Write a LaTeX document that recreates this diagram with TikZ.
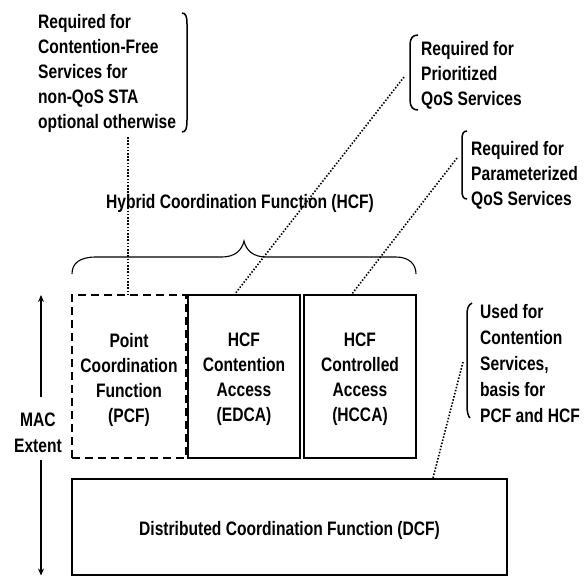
\documentclass[tikz,border=0pt]{standalone}
\usepackage{fontspec}
\setmainfont{Liberation Sans}[FakeStretch=0.8]
\usetikzlibrary{arrows.meta,calc}
\begin{document}
\begin{tikzpicture}[x=1pt,y=-1pt,
  lbl/.style={font=\fontsize{19.5}{25}\selectfont\bfseries, inner sep=0pt},
  note/.style={lbl, align=left, anchor=north west},
  boxtext/.style={lbl, align=center, anchor=north},
  func/.style={draw, line width=2.3pt, inner sep=0pt, minimum height=163pt},
  pcfbox/.style={func, dash pattern=on 8pt off 5pt},
  bracket/.style={line width=1.5pt},
  brace/.style={line width=1.1pt},
  link/.style={line width=1.6pt, dash pattern=on 1.5pt off 1.7pt},
  extent/.style={line width=1.5pt, -{Stealth[length=7pt,width=6pt]}}]
\useasboundingbox (0,0) rectangle (584,576);

% MAC layer function blocks
\node[pcfbox, minimum width=114pt] (pcf)  at (129,376.5) {};
\node[func,   minimum width=112pt] (edca) at (244,376.5) {};
\node[func,   minimum width=112pt] (hcca) at (360,376.5) {};
\node[func, minimum width=435pt, minimum height=96pt] (dcf) at (289.5,527) {};

\node[boxtext] (pcftext)  at (129,332.9) {Point\\Coordination\\Function\\(PCF)};
\node[boxtext] (edcatext) at (244,332.9) {HCF\\Contention\\Access\\(EDCA)};
\node[boxtext] (hccatext) at (360,332.9) {HCF\\Controlled\\Access\\(HCCA)};
\node[lbl, anchor=base] (dcftext) at (289.5,535) {Distributed Coordination Function (DCF)};

% HCF grouping brace and title
\node[lbl, anchor=base] (hcf) at (240,208) {Hybrid Coordination Function (HCF)};
\draw[brace] (72,274) .. controls (72,263) and (80,257) .. (96,257) -- (222,257)
  .. controls (235,257) and (242,250) .. (244,241)
  .. controls (246,250) and (253,257) .. (266,257) -- (396,257)
  .. controls (410,257) and (416,265) .. (416,274);

% MAC extent
\node[lbl, align=center, anchor=north, font=\fontsize{19.5}{26}\selectfont\bfseries] (mac) at (38,412.9) {MAC\\Extent};
\coordinate (macup)  at (41,397);
\coordinate (mactop) at (41,295);
\coordinate (maclow) at (41,460);
\coordinate (macbot) at (41,575.5);
\draw[extent] (macup) -- (mactop);
\draw[extent] (maclow) -- (macbot);

% Annotations
\node[note] (notea) at (38,13.9) {Required for\\Contention-Free\\Services for\\non-QoS STA\\optional otherwise};
\draw[bracket] (182,13) .. controls (186,13) and (187,17) .. (187,24) -- (187,120)
  .. controls (187,128) and (186,132) .. (182,132);
\coordinate (na) at (128,137);

\node[note] (noteb) at (421,40.9) {Required for\\Prioritized\\QoS Services};
\draw[bracket] (418,35) .. controls (413,35) and (410,38) .. (410,45) -- (410,100)
  .. controls (410,107) and (413,110) .. (418,110);
\coordinate (nb) at (404,77);

\node[note] (notec) at (471,140.9) {Required for\\Parameterized\\QoS Services};
\draw[bracket] (467,131) .. controls (463,131) and (462,134) .. (462,140) -- (462,190)
  .. controls (462,196) and (463,199) .. (467,199);
\coordinate (nc) at (457,158);

\node[note, font=\fontsize{19.5}{26}\selectfont\bfseries] (noted) at (480,303.9) {Used for\\Contention\\Services,\\basis for\\PCF and HCF};
\draw[bracket] (472,303) .. controls (468,305) and (467,309) .. (467,315) -- (467,405)
  .. controls (467,412) and (468,416) .. (470,418);
\coordinate (nd) at (463,362);

% Dotted leaders
\draw[link] (na) -- (na |- pcf.north);
\draw[link] (nb) -- ([xshift=-9pt]edca.north);
\draw[link] (nc) -- ([xshift=-8pt]hcca.north);
\draw[link] (nd) -- ([xshift=143.5pt]dcf.north);
\end{tikzpicture}
\end{document}
